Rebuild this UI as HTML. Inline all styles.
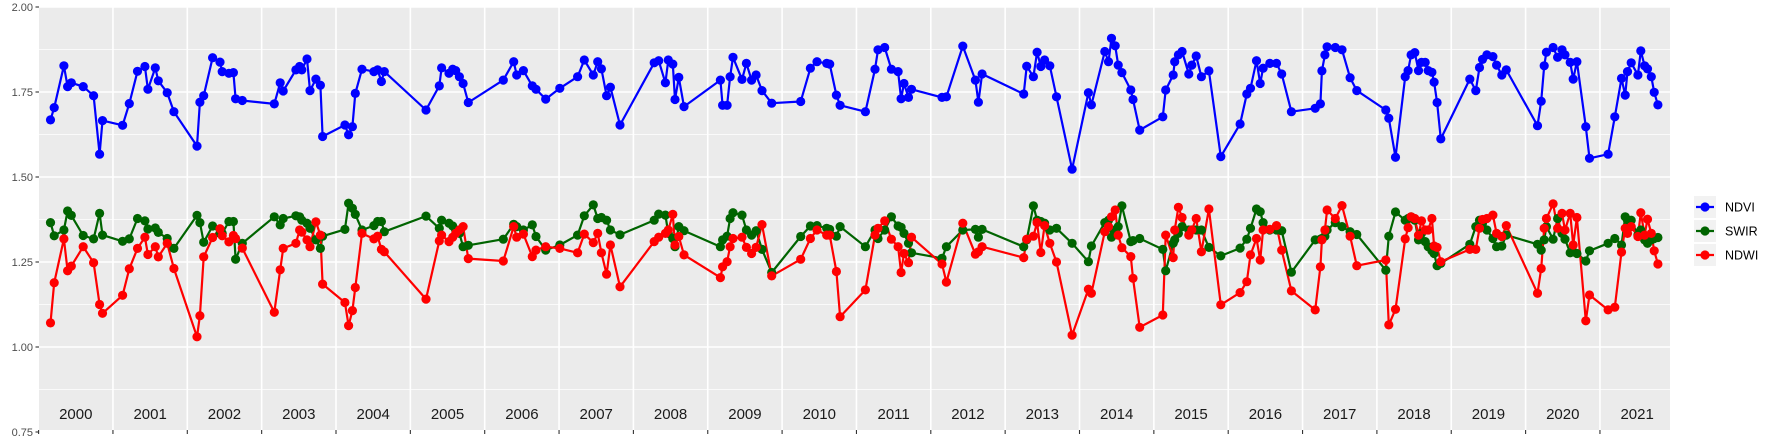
<!DOCTYPE html>
<html><head><meta charset="utf-8"><style>
html,body{margin:0;padding:0;background:#fff;}
svg{display:block;font-family:"Liberation Sans",Arial,sans-serif;}
</style></head><body>
<svg id="chart" width="1773" height="442" viewBox="0 0 1773 442" xmlns="http://www.w3.org/2000/svg">
<rect x="39" y="7" width="1631" height="423" fill="#ebebeb"/>
<g id="grid"></g>
<g id="axes"></g>
<g id="lines"></g>
<g id="points"></g>
<g id="legend"></g>
</svg>
<script>
const dates=[2000.16,2000.21,2000.34,2000.39,2000.44,2000.60,2000.74,2000.82,2000.86,2001.13,2001.22,2001.33,2001.43,2001.47,2001.57,2001.61,2001.73,2001.82,2002.13,2002.17,2002.22,2002.34,2002.44,2002.47,2002.56,2002.62,2002.65,2002.74,2003.17,2003.25,2003.29,2003.46,2003.51,
2003.54,2003.61,2003.65,2003.73,2003.79,2003.82,2004.12,2004.17,2004.22,2004.26,2004.35,2004.51,2004.56,2004.61,2004.65,2005.21,2005.39,2005.42,2005.52,2005.57,2005.61,2005.66,2005.71,2005.78,2006.25,2006.39,2006.43,2006.52,2006.64,2006.69,2006.82,
2007.01,2007.25,2007.34,2007.46,2007.52,2007.57,2007.64,2007.69,2007.82,2008.28,2008.34,2008.43,2008.47,2008.53,2008.56,2008.61,2008.68,2009.17,2009.20,2009.26,2009.30,2009.34,2009.46,2009.52,2009.59,2009.65,2009.73,2009.86,2010.25,2010.38,2010.47,2010.60,
2010.64,2010.73,2010.78,2011.12,2011.25,2011.29,2011.38,2011.47,2011.56,2011.60,2011.64,2011.70,2011.74,2012.15,2012.21,2012.43,2012.60,2012.64,2012.69,2013.25,2013.29,2013.38,2013.43,2013.48,2013.53,2013.60,2013.69,2013.90,2014.12,2014.16,
2014.34,2014.39,2014.43,2014.48,2014.52,2014.57,2014.69,2014.72,2014.81,2015.12,2015.16,2015.26,2015.28,2015.33,2015.38,2015.47,2015.51,2015.57,2015.64,2015.74,2015.90,2016.16,2016.25,2016.30,2016.38,2016.43,2016.47,2016.56,2016.65,2016.72,2016.85,2017.17,2017.24,2017.26,2017.30,2017.33,2017.44,2017.53,2017.64,
2017.73,2018.12,2018.16,2018.25,2018.38,2018.42,2018.46,2018.51,2018.56,2018.60,2018.65,2018.69,2018.74,2018.77,2018.81,2018.86,2019.25,2019.33,2019.38,2019.42,2019.48,2019.56,2019.61,2019.68,2019.74,2020.16,2020.21,2020.25,2020.28,2020.37,2020.43,2020.49,2020.53,2020.60,2020.64,2020.69,2020.81,2020.86,2021.11,2021.20,2021.29,2021.34,2021.37,2021.42,2021.51,2021.55,2021.60,2021.64,2021.69,2021.73,2021.78];
const ndvi=[1.668,1.704,1.827,1.766,1.777,1.766,1.739,1.567,1.666,1.652,1.716,1.811,1.825,1.758,1.821,1.783,1.748,1.692,1.591,1.720,1.739,1.851,1.838,1.810,1.805,1.807,1.730,1.725,1.715,1.777,1.753,1.815,1.825,
1.815,1.847,1.754,1.788,1.770,1.619,1.653,1.624,1.648,1.746,1.817,1.810,1.815,1.781,1.810,1.697,1.768,1.821,1.805,1.817,1.813,1.795,1.775,1.719,1.785,1.839,1.800,1.813,1.768,1.758,1.729,
1.761,1.795,1.844,1.800,1.839,1.818,1.739,1.764,1.653,1.836,1.842,1.777,1.844,1.832,1.728,1.793,1.707,1.785,1.711,1.711,1.795,1.852,1.787,1.834,1.785,1.800,1.754,1.717,1.722,1.820,1.839,1.834,
1.832,1.741,1.711,1.692,1.817,1.874,1.881,1.817,1.810,1.730,1.775,1.734,1.758,1.734,1.736,1.885,1.785,1.720,1.803,1.744,1.826,1.795,1.867,1.825,1.844,1.827,1.736,1.523,1.748,1.712,
1.869,1.839,1.908,1.886,1.829,1.807,1.756,1.728,1.638,1.677,1.756,1.800,1.839,1.859,1.869,1.803,1.829,1.856,1.795,1.812,1.560,1.656,1.744,1.761,1.842,1.775,1.820,1.834,1.834,1.803,1.692,1.702,1.715,1.812,1.859,1.883,1.881,1.874,1.792,
1.754,1.697,1.673,1.558,1.795,1.813,1.859,1.866,1.813,1.837,1.837,1.813,1.808,1.779,1.719,1.612,1.788,1.754,1.822,1.846,1.859,1.854,1.829,1.800,1.815,1.651,1.723,1.827,1.867,1.881,1.852,1.874,1.859,1.837,1.788,1.839,1.648,1.555,1.567,1.677,1.790,1.741,1.810,1.836,1.800,1.871,1.827,1.818,1.795,1.749,1.712];
const swir=[1.366,1.327,1.344,1.400,1.387,1.328,1.318,1.393,1.329,1.311,1.318,1.378,1.371,1.347,1.350,1.337,1.319,1.290,1.387,1.366,1.308,1.356,1.334,1.334,1.369,1.369,1.258,1.305,1.383,1.359,1.378,1.386,1.383,
1.373,1.364,1.349,1.315,1.290,1.326,1.346,1.423,1.408,1.390,1.344,1.357,1.369,1.369,1.339,1.385,1.349,1.373,1.364,1.356,1.344,1.334,1.295,1.299,1.317,1.361,1.354,1.344,1.359,1.325,1.285,
1.300,1.329,1.386,1.418,1.378,1.381,1.373,1.344,1.330,1.373,1.391,1.388,1.334,1.319,1.295,1.354,1.342,1.295,1.315,1.326,1.378,1.395,1.388,1.344,1.329,1.342,1.287,1.219,1.325,1.356,1.357,1.349,
1.346,1.326,1.354,1.295,1.344,1.319,1.344,1.383,1.356,1.352,1.334,1.305,1.277,1.261,1.295,1.344,1.346,1.323,1.346,1.295,1.315,1.415,1.373,1.369,1.364,1.344,1.349,1.305,1.251,1.297,
1.366,1.373,1.323,1.344,1.354,1.415,1.310,1.313,1.319,1.287,1.224,1.305,1.315,1.334,1.354,1.344,1.344,1.344,1.344,1.293,1.268,1.291,1.317,1.349,1.406,1.398,1.366,1.344,1.344,1.342,1.220,1.315,1.317,1.319,1.326,1.344,1.366,1.354,1.339,
1.331,1.226,1.326,1.397,1.373,1.378,1.383,1.373,1.315,1.334,1.310,1.295,1.283,1.275,1.239,1.246,1.302,1.354,1.373,1.364,1.344,1.319,1.295,1.297,1.329,1.302,1.285,1.315,1.354,1.317,1.378,1.334,1.317,1.277,1.280,1.275,1.253,1.283,1.305,1.319,1.300,1.383,1.373,1.373,1.329,1.344,1.315,1.305,1.315,1.319,1.322];
const ndwi=[1.071,1.189,1.318,1.224,1.238,1.295,1.248,1.125,1.099,1.152,1.230,1.290,1.323,1.272,1.295,1.265,1.305,1.231,1.030,1.092,1.265,1.322,1.348,1.327,1.309,1.328,1.319,1.291,1.102,1.227,1.290,1.305,1.344,
1.338,1.315,1.295,1.368,1.329,1.185,1.131,1.063,1.107,1.175,1.334,1.318,1.326,1.287,1.280,1.141,1.312,1.329,1.310,1.323,1.334,1.344,1.354,1.260,1.253,1.354,1.323,1.332,1.266,1.285,1.295,
1.290,1.277,1.332,1.307,1.334,1.277,1.214,1.300,1.177,1.310,1.323,1.334,1.344,1.390,1.300,1.325,1.271,1.204,1.236,1.251,1.295,1.319,1.323,1.293,1.275,1.293,1.360,1.209,1.258,1.319,1.344,1.329,
1.329,1.222,1.089,1.168,1.329,1.349,1.371,1.317,1.295,1.219,1.275,1.248,1.323,1.244,1.191,1.364,1.273,1.280,1.295,1.263,1.317,1.326,1.366,1.278,1.357,1.305,1.250,1.035,1.170,1.158,
1.339,1.354,1.383,1.403,1.329,1.292,1.266,1.202,1.058,1.094,1.329,1.263,1.344,1.411,1.381,1.329,1.344,1.378,1.280,1.406,1.124,1.160,1.192,1.271,1.319,1.256,1.344,1.346,1.357,1.285,1.165,1.109,1.236,1.315,1.344,1.403,1.378,1.416,1.326,
1.239,1.256,1.065,1.111,1.318,1.351,1.383,1.378,1.329,1.371,1.344,1.344,1.378,1.297,1.293,1.251,1.287,1.287,1.349,1.375,1.378,1.388,1.334,1.325,1.357,1.158,1.231,1.349,1.378,1.421,1.349,1.393,1.344,1.393,1.300,1.381,1.077,1.153,1.109,1.117,1.279,1.349,1.334,1.354,1.325,1.395,1.329,1.376,1.334,1.283,1.244];
const yTicks=[0.75,1.00,1.25,1.50,1.75,2.00];
const yTickLabels=["0.75","1.00","1.25","1.50","1.75","2.00"];
const yMinor=[0.875,1.125,1.375,1.625,1.875];
const years=[2000,2001,2002,2003,2004,2005,2006,2007,2008,2009,2010,2011,2012,2013,2014,2015,2016,2017,2018,2019,2020,2021];
const seriesNames=["NDVI","SWIR","NDWI"];
const seriesColors=["#0000ff","#006400","#ff0000"];

const NS="http://www.w3.org/2000/svg";
function X(t){return 38.6+74.35*(t-2000);}
function Y(v){return 7+(2-v)*340;}
function mk(tag,attrs,parent){const e=document.createElementNS(NS,tag);for(const k in attrs)e.setAttribute(k,attrs[k]);parent.appendChild(e);return e;}
const grid=document.getElementById('grid'),axes=document.getElementById('axes');
yMinor.forEach(v=>{const l=mk('line',{x1:39,x2:1670,y1:Y(v),y2:Y(v),stroke:'#fff','stroke-width':0.8},grid);

});
yTicks.forEach((v,i)=>{const l=mk('line',{x1:39,x2:1670,y1:Y(v),y2:Y(v),stroke:'#fff','stroke-width':1.6},grid);


const t=mk('line',{x1:35.5,x2:39,y1:Y(v),y2:Y(v),stroke:'#333','stroke-width':1.1},axes);


const tx=mk('text',{x:33,y:Y(v)+4,'text-anchor':'end','font-size':11,fill:'#4d4d4d'},axes);
tx.textContent=yTickLabels[i];

});
years.forEach(yr=>{const gx=X(yr);
if(yr>2000){const l=mk('line',{x1:gx,x2:gx,y1:7,y2:430,stroke:'#fff','stroke-width':1.6},grid);

}
const t=mk('line',{x1:gx,x2:gx,y1:430,y2:434,stroke:'#333','stroke-width':1.1},axes);


const tx=mk('text',{x:X(yr+0.5),y:419,'text-anchor':'middle','font-size':15,fill:'#1a1a1a'},grid);
tx.textContent=String(yr);

});
const allVals=[ndvi,swir,ndwi];
const linesG=document.getElementById('lines'),ptsG=document.getElementById('points');
allVals.forEach((vals,s)=>{const n=Math.min(dates.length,vals.length);
let d='';for(let i=0;i<n;i++)d+=(i?'L':'M')+X(dates[i]).toFixed(1)+','+Y(vals[i]).toFixed(1);
const p=mk('path',{d:d,fill:'none',stroke:seriesColors[s],'stroke-width':2.2,'stroke-linejoin':'round'},linesG);

});
allVals.forEach((vals,s)=>{const n=Math.min(dates.length,vals.length);
for(let i=0;i<n;i++){const c=mk('circle',{cx:X(dates[i]).toFixed(1),cy:Y(vals[i]).toFixed(1),r:4.6,fill:seriesColors[s]},ptsG);

}});
const lg=document.getElementById('legend');
seriesNames.forEach((nm,i)=>{const cy=207+24*i;
const g=mk('g',{},lg);


mk('rect',{x:1694,y:cy-11,width:22,height:22,fill:'#f2f2f2'},g);
mk('line',{x1:1696,x2:1714,y1:cy,y2:cy,stroke:seriesColors[i],'stroke-width':2.2},g);
mk('circle',{cx:1705,cy:cy,r:4.6,fill:seriesColors[i]},g);
const t=mk('text',{x:1725,y:cy+4.5,'font-size':12.5,fill:'#000'},g);
t.textContent=nm;});
</script>
</body></html>
